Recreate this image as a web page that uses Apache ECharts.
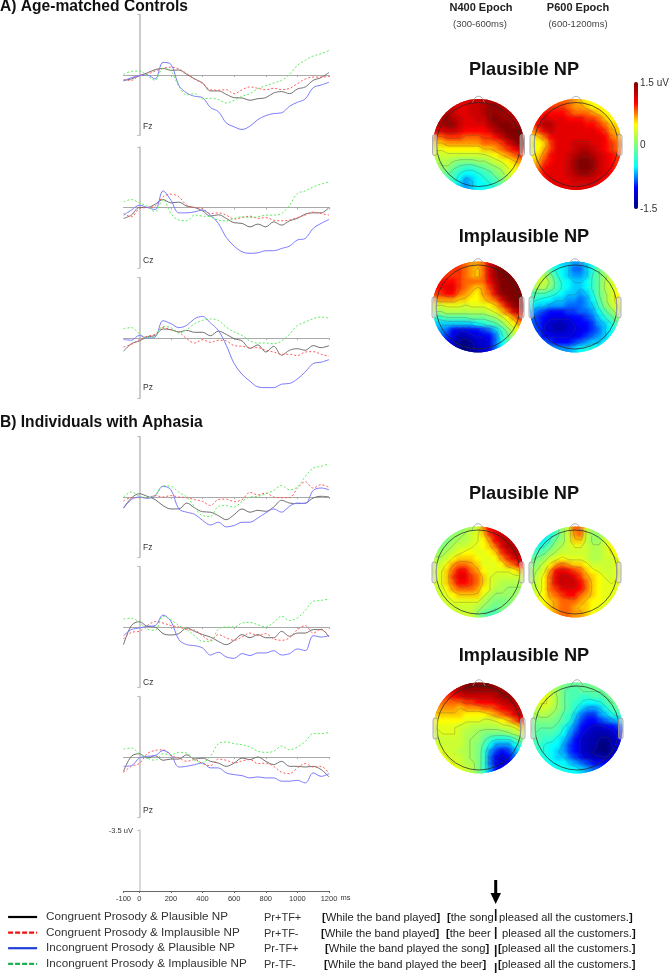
<!DOCTYPE html>
<html>
<head>
<meta charset="utf-8">
<style>
html,body{margin:0;padding:0;background:#fff}
#main{width:671px;height:975px}
</style>
<script src="https://cdn.jsdelivr.net/npm/echarts@6/dist/echarts.min.js"></script>
</head>
<body>
<div id="main"></div>
<script>
// time axis, ms
const times = [-100,-50,0,50,100,150,200,250,300,350,400,450,500,550,600,650,700,750,800,850,900,950,1000,1050,1100,1150,1200]
const xTicks = [200,400,600,800,1000,1200]
const xLabels = [-100,0,200,400,600,800,1000,1200]
const seriesNames = ['Congruent Prosody & Plausible NP','Congruent Prosody & Implausible NP','Incongruent Prosody & Plausible NP','Incongruent Prosody & Implausible NP']

// ERP values in uV (negative plotted up)
const aFzBlack = [.31,.23,.04,-.12,-.31,-.38,-.27,-.29,-.04,.23,.46,.92,.92,1.12,1.31,1.33,1.46,1.37,1.31,1.04,.96,1.08,.81,.69,.31,.15,-.15]
const aFzRed = [.27,.31,.04,-.04,-.23,-.38,-.46,-.35,-.08,.23,.5,.85,.88,.85,1.08,.85,.69,.77,.85,.77,.85,.77,.5,.23,.12,.12,.08]
const aFzBlue = [.35,.15,.04,0,.23,-.73,-.62,.6,1.04,1.23,1.31,1.88,2.12,2.77,3.0,3.15,2.96,2.58,2.35,2.23,2.19,1.81,1.58,1.38,.73,.58,.42]
const aFzGreen = [-.04,-.21,-.23,.04,.31,-.37,-.23,.65,1.15,1.08,1.37,1.35,1.42,1.62,1.46,1.23,1.08,.79,.62,.46,.31,-.04,-.56,-.85,-1.1,-1.23,-1.42]

const aCzBlack = [.63,.44,0,0,-.19,-.46,-.27,-.31,-.08,0,.19,.5,.42,.63,.88,.92,1.12,.96,1.12,.83,1.02,.77,.63,.38,.31,.31,0]
const aCzRed = [.35,.54,.06,0,-.08,-.62,-.77,-.62,-.13,0,.06,.35,.31,.44,.67,.58,.5,.63,.58,.73,.77,.73,.58,.44,.27,.35,.44]
const aCzBlue = [.44,.15,-.13,0,.12,-.96,-.42,.31,.31,.25,.15,.44,.92,1.73,2.23,2.56,2.65,2.62,2.5,2.5,2.37,2.23,1.88,1.79,1.21,.92,.69]
const aCzGreen = [-.33,-.46,-.27,-.08,.25,-.46,.35,.73,.77,.44,.5,.54,.73,.77,.63,.54,.58,.54,.44,.44,.35,-.13,-.81,-.96,-1.19,-1.35,-1.48]

const aPzBlack = [.77,.33,.17,-.06,-.15,-.52,-.48,-.35,-.44,-.33,-.33,-.13,-.4,-.21,.04,.17,.6,.4,.81,.48,1.0,.71,.62,.71,.44,.56,.44]
const aPzRed = [.52,.37,.1,-.1,-.21,-.6,-.48,-.33,.04,.29,.1,.25,.13,.17,.44,.48,.56,.56,.71,.81,.94,.94,1.02,.81,.79,.94,1.06]
const aPzBlue = [.08,.13,-.15,0,-.06,-1.0,-.83,-.6,-.73,-1.12,-1.25,-.87,-.44,.42,1.48,2.1,2.5,2.83,2.87,2.87,2.67,2.63,2.37,1.96,1.48,1.4,1.25]
const aPzGreen = [-.54,-.6,-.25,-.02,-.1,-.67,-.6,-.29,-.48,-.83,-1.02,-1.1,-1.02,-.63,-.35,-.15,.17,.29,.29,.33,.17,-.21,-.73,-.92,-1.12,-1.21,-1.15]

const bFzBlack = [.63,.06,-.19,-.04,.15,.5,.69,.69,.35,.63,.85,.88,1.08,1.31,1.02,.69,.88,.77,.83,.58,.19,.35,.38,.35,.06,-.04,0]
const bFzRed = [.23,.04,.04,.04,-.08,0,-.08,0,.04,.15,.25,.5,.15,.12,.27,.15,-.27,-.12,-.23,0,.04,.04,-.5,-.88,-.52,-.71,-.56]
const bFzBlue = [.65,.15,0,.08,-.08,-.62,-.42,.69,.88,1.0,1.35,1.62,1.46,1.73,1.65,1.46,1.46,1.21,.92,.69,.88,.54,.35,.38,-.38,-.52,-.42]
const bFzGreen = [0,-.29,-.04,.04,-.12,-.65,-.62,-.27,0,.58,1.08,1.12,.54,.5,.58,.25,0,-.04,-.19,-.38,-.67,-.42,-.58,-1.19,-1.67,-1.77,-1.92]

const bCzBlack = [1.02,-.08,-.31,-.04,0,.38,.46,.38,.06,.25,.44,.58,.83,1.02,.77,.44,.62,.44,.62,.62,.25,.54,.35,.35,.15,.15,.58]
const bCzRed = [.69,.31,.25,-.08,-.31,-.23,-.08,0,.15,.19,.5,.77,.44,.63,.77,.58,.35,.5,.38,.69,.77,.63,.15,-.08,.35,.12,.58]
const bCzBlue = [.5,.15,.06,-.04,-.08,-.69,-.33,.73,1.02,1.08,1.21,1.62,1.46,1.73,1.81,1.54,1.65,1.5,1.5,1.37,1.62,1.54,1.27,1.37,.5,.58,.5]
const bCzGreen = [-.46,-.52,-.27,.12,.19,-.62,-.42,-.08,.15,.5,.83,.83,.12,0,0,-.23,-.27,-.13,0,-.27,-.62,-.37,-.52,-.96,-1.48,-1.54,-1.62]

const bPzBlack = [.83,-.04,-.19,.06,-.08,.19,.12,.12,-.13,.12,.06,.25,.35,.54,.35,.06,.15,0,.25,.44,.25,.54,.54,.58,.54,.73,1.15]
const bPzRed = [.88,.54,.38,-.19,-.38,-.42,-.08,.06,.25,.15,.38,.5,.12,.19,.35,.23,.15,.38,.35,.54,.88,.96,.63,.38,.58,.54,.96]
const bPzBlue = [.54,.5,.06,-.04,-.08,-.38,-.13,.58,.54,.44,.35,.63,.63,.92,1.02,1.08,1.21,1.15,1.21,1.21,1.4,1.4,1.35,1.5,.92,1.12,.96]
const bPzGreen = [-.46,-.52,-.19,.06,.19,-.19,-.13,-.27,-.23,.19,.31,-.04,-.77,-.87,-.77,-.71,-.58,-.33,-.27,-.33,-.63,-.42,-.58,-.9,-1.35,-1.35,-1.42]

// scalp maps, rows top to bottom, tenths of a uV
const mapAPlausN400 = [
[11,11,11,11,11,11,12,12,13,13,13,13,13,13,13],
[12,12,12,12,11,11,12,12,13,14,14,13,13,13,13],
[13,13,13,12,11,11,12,12,13,14,14,14,13,13,13],
[13,13,14,13,12,11,11,12,12,14,15,14,14,13,13],
[13,13,14,14,12,11,11,11,11,13,14,15,15,14,14],
[11,11,12,12,11,10,10,10,10,11,13,14,15,15,15],
[8,8,9,9,9,8,8,8,9,9,10,12,14,15,15],
[6,6,7,7,7,7,7,7,8,8,8,9,11,13,15],
[4,4,5,5,5,5,5,5,6,6,7,8,9,10,12],
[3,3,3,3,3,3,3,3,3,4,5,6,7,8,9],
[1,2,2,1,0,0,0,1,1,2,3,4,5,6,7],
[0,1,1,-1,-2,-3,-3,-2,-1,0,1,2,4,5,6],
[-1,-1,-1,-2,-4,-5,-5,-4,-3,-2,0,1,3,4,5],
[-2,-2,-2,-3,-5,-7,-6,-5,-4,-3,-2,0,2,3,4],
[-3,-3,-3,-4,-6,-7,-6,-5,-5,-4,-3,-1,1,2,3]]
const mapAPlausP600 = [
[7,7,7,7,8,8,8,7,6,5,5,5,5,5,5],
[8,8,8,9,9,9,8,7,7,6,5,5,5,5,5],
[9,9,10,10,10,10,9,8,8,8,7,6,5,5,5],
[9,10,12,11,11,11,10,10,10,9,9,8,6,5,5],
[9,11,13,13,11,11,11,11,11,10,10,9,8,6,6],
[7,9,11,12,11,11,11,11,11,11,11,10,9,7,6],
[5,6,8,10,11,11,11,11,11,11,11,11,10,8,7],
[4,5,6,9,11,11,11,12,12,12,11,11,10,9,8],
[4,5,7,9,11,11,11,12,13,13,12,11,10,9,8],
[5,6,8,10,11,11,12,13,14,14,13,12,11,10,9],
[6,7,9,10,11,11,12,14,15,15,14,12,11,10,9],
[7,8,10,11,11,11,12,14,15,15,14,12,11,10,9],
[8,9,10,11,11,11,12,13,14,14,13,12,11,10,9],
[9,9,10,11,11,11,11,12,12,12,12,11,10,10,9],
[9,9,10,11,11,11,11,11,11,11,11,10,10,9,9]]
const mapAImplN400 = [
[10,10,10,10,9,8,7,7,8,11,14,14,14,14,14],
[9,9,9,9,9,8,7,6,8,11,14,15,15,14,14],
[9,9,9,9,9,8,7,6,8,11,14,15,15,15,15],
[10,10,10,10,9,8,8,8,8,10,13,15,15,15,15],
[10,10,11,11,9,8,7,6,7,9,12,15,15,15,15],
[9,9,10,10,8,7,6,5,7,8,11,14,15,15,15],
[7,7,7,7,6,6,5,5,6,7,8,11,14,15,15],
[3,3,4,4,4,3,4,4,4,5,6,8,11,14,15],
[1,1,2,2,2,2,2,2,2,3,4,6,8,11,13],
[-4,-3,-2,-2,-2,-2,-1,-1,-1,0,1,3,5,7,9],
[-6,-6,-6,-6,-6,-6,-6,-5,-4,-3,-2,0,3,5,7],
[-7,-7,-8,-10,-11,-11,-10,-10,-9,-8,-6,-3,0,3,5],
[-7,-8,-9,-11,-13,-13,-12,-11,-11,-10,-8,-4,-1,2,4],
[-8,-9,-10,-12,-14,-15,-14,-12,-12,-11,-8,-5,-2,1,3],
[-9,-10,-11,-12,-14,-15,-14,-13,-12,-11,-8,-5,-2,1,3]]
const mapAImplP600 = [
[-2,-2,-2,-3,-5,-6,-6,-7,-7,-6,-4,-2,0,1,1],
[-1,0,0,-2,-4,-5,-6,-8,-8,-6,-4,-1,1,2,2],
[1,2,2,0,-3,-5,-6,-7,-7,-6,-3,-1,1,3,3],
[2,3,3,1,-2,-4,-5,-6,-6,-5,-3,-1,2,3,4],
[1,2,2,0,-2,-4,-5,-6,-6,-5,-3,-1,2,3,4],
[-2,-2,-2,-3,-4,-5,-6,-6,-7,-6,-4,-1,1,3,5],
[-3,-4,-5,-5,-6,-6,-7,-7,-8,-7,-5,-2,1,3,5],
[-5,-6,-6,-7,-7,-7,-8,-8,-8,-7,-6,-3,0,2,4],
[-7,-8,-9,-10,-10,-10,-9,-9,-8,-8,-7,-5,-2,0,2],
[-8,-9,-10,-11,-11,-11,-11,-10,-10,-9,-8,-6,-4,-2,0],
[-8,-9,-11,-12,-13,-13,-12,-11,-10,-10,-9,-7,-6,-4,-2],
[-8,-9,-11,-12,-13,-13,-12,-11,-11,-10,-9,-8,-6,-5,-3],
[-7,-8,-10,-11,-11,-11,-11,-11,-10,-9,-8,-7,-6,-5,-3],
[-6,-7,-8,-9,-10,-10,-10,-9,-8,-7,-6,-6,-5,-4,-3],
[-4,-4,-5,-6,-7,-7,-7,-6,-5,-4,-4,-4,-4,-3,-3]]
const mapBPlausN400 = [
[0,0,0,0,0,1,2,3,7,10,11,11,11,11,11],
[-1,-1,0,1,1,2,3,4,6,9,11,12,12,12,12],
[-1,-1,0,1,2,2,3,4,5,7,10,12,13,12,12],
[0,0,1,2,3,3,4,4,5,6,8,11,13,13,13],
[1,1,2,3,4,5,5,4,4,5,6,9,11,13,13],
[2,2,3,5,6,6,6,5,4,4,5,7,9,11,12],
[3,3,5,7,8,8,7,6,4,4,4,5,7,8,10],
[3,4,6,8,10,10,8,7,5,4,4,4,4,5,6],
[3,4,6,9,11,11,9,8,6,4,3,3,3,3,3],
[3,4,6,8,10,10,9,8,6,4,3,2,2,2,2],
[3,3,5,7,8,8,8,7,5,4,2,2,1,1,1],
[3,3,4,5,6,6,6,6,4,2,1,1,1,1,1],
[3,3,3,4,4,4,4,4,2,1,0,0,0,1,1],
[3,3,3,3,3,3,3,2,1,0,-1,0,0,1,1],
[3,3,3,3,3,3,3,1,-1,-2,-2,-1,0,1,1]]
const mapBPlausP600 = [
[-6,-6,-5,-4,-2,1,3,8,8,3,1,1,2,2,2],
[-7,-7,-6,-4,-2,1,3,7,8,3,1,1,2,2,2],
[-7,-6,-5,-3,0,1,3,6,6,3,1,1,3,4,4],
[-6,-4,-3,-1,1,2,3,4,4,3,2,2,3,5,5],
[-3,-2,-1,1,2,3,3,3,3,3,2,2,3,4,5],
[-1,0,1,3,4,5,4,4,4,3,2,2,3,3,4],
[0,1,3,5,7,8,7,6,6,5,3,3,3,3,4],
[1,2,4,7,10,11,10,9,8,6,5,4,3,3,4],
[1,3,5,8,11,12,12,11,9,7,6,5,4,3,4],
[2,3,5,8,11,12,12,12,10,8,6,5,4,4,4],
[2,3,5,8,9,11,11,11,10,8,6,5,4,4,4],
[3,4,5,7,8,9,10,10,8,7,6,5,4,4,4],
[3,4,5,6,7,8,8,8,7,6,5,5,4,4,3],
[3,4,5,6,7,8,8,7,6,6,5,4,4,3,3],
[4,4,5,6,7,8,8,7,7,6,5,4,4,3,3]]
const mapBImplN400 = [
[12,12,13,13,14,15,15,15,15,15,14,13,13,13,13],
[10,10,11,12,13,14,14,14,14,14,14,14,14,13,13],
[9,9,9,10,11,12,12,12,12,12,13,14,14,13,13],
[8,8,8,8,8,9,9,10,10,10,11,12,13,13,13],
[7,7,7,7,6,7,7,7,8,8,9,10,11,12,13],
[6,6,6,6,6,5,5,5,5,6,7,8,9,11,12],
[5,5,5,5,5,4,4,4,3,3,4,5,6,8,10],
[4,4,4,4,3,3,2,2,2,2,2,3,3,4,6],
[3,4,4,4,3,2,2,1,0,0,0,0,1,2,3],
[3,3,3,3,3,2,1,1,-1,-3,-4,-4,-4,-2,0],
[3,3,3,3,3,2,1,0,-2,-5,-7,-7,-7,-5,-3],
[4,4,3,3,2,2,1,0,-3,-7,-9,-10,-9,-7,-5],
[4,4,4,3,3,2,1,0,-3,-8,-11,-12,-10,-8,-6],
[4,4,4,4,3,2,2,0,-3,-8,-11,-12,-11,-8,-6],
[4,4,4,4,4,3,2,0,-3,-7,-10,-10,-9,-7,-6]]
const mapBImplP600 = [
[3,3,2,1,0,0,-1,-1,-1,-1,0,0,0,0,0],
[4,4,3,2,1,-1,-2,-2,-1,-1,-1,-1,0,1,1],
[4,4,4,3,1,-1,-2,-2,-3,-3,-2,-2,-1,0,1],
[3,4,4,3,1,-1,-2,-3,-4,-5,-5,-4,-2,-1,0],
[2,3,3,2,1,-1,-2,-4,-6,-7,-7,-6,-4,-2,-1],
[1,2,2,1,0,-2,-3,-6,-8,-9,-9,-7,-6,-4,-3],
[0,0,0,0,-1,-2,-4,-7,-9,-10,-10,-9,-8,-7,-6],
[-1,-1,-1,-1,-2,-4,-6,-8,-10,-11,-12,-12,-11,-10,-9],
[-1,-2,-2,-2,-3,-5,-7,-9,-11,-12,-13,-13,-13,-12,-10],
[-2,-2,-3,-3,-5,-6,-8,-10,-12,-13,-13,-14,-14,-13,-11],
[-2,-3,-4,-5,-5,-7,-9,-10,-12,-13,-13,-15,-15,-13,-11],
[-3,-3,-4,-5,-6,-7,-9,-10,-12,-13,-14,-15,-15,-13,-11],
[-3,-4,-4,-5,-6,-6,-8,-9,-11,-12,-13,-13,-13,-12,-10],
[-3,-4,-4,-5,-5,-5,-6,-7,-8,-9,-10,-10,-10,-10,-9],
[-3,-4,-4,-4,-4,-4,-5,-5,-6,-7,-8,-8,-8,-8,-8]]

const font = 'Liberation Sans'
const lineStyles = [
  { color: '#707070', width: 1 },
  { color: '#ff5a5a', width: 1, type: [2, 2] },
  { color: '#7b7bff', width: 1 },
  { color: '#5cee5c', width: 1, type: [2, 2] }
]
const panels = [
  { label: 'Fz', zero: 75, labelY: 127, values: [aFzBlack, aFzRed, aFzBlue, aFzGreen] },
  { label: 'Cz', zero: 207.5, labelY: 260.5, values: [aCzBlack, aCzRed, aCzBlue, aCzGreen] },
  { label: 'Pz', zero: 338, labelY: 388, values: [aPzBlack, aPzRed, aPzBlue, aPzGreen] },
  { label: 'Fz', zero: 497, labelY: 548, values: [bFzBlack, bFzRed, bFzBlue, bFzGreen] },
  { label: 'Cz', zero: 627, labelY: 683, values: [bCzBlack, bCzRed, bCzBlue, bCzGreen] },
  { label: 'Pz', zero: 757, labelY: 811, values: [bPzBlack, bPzRed, bPzBlue, bPzGreen] }
]
const maps = [
  { cx: 478.5, cy: 144.5, grid: mapAPlausN400 },
  { cx: 576, cy: 144.5, grid: mapAPlausP600 },
  { cx: 478, cy: 307, grid: mapAImplN400 },
  { cx: 575, cy: 307, grid: mapAImplP600 },
  { cx: 478, cy: 572, grid: mapBPlausN400 },
  { cx: 575, cy: 572, grid: mapBPlausP600 },
  { cx: 479, cy: 728, grid: mapBImplN400 },
  { cx: 577, cy: 728, grid: mapBImplP600 }
]
const mapRadius = 45.5

const grids = [], xAxes = [], yAxes = [], series = [], graphics = []

function addText(text, x, y, size, opts) {
  graphics.push({
    type: 'text', z: 50,
    style: Object.assign({
      text, x, y, fill: '#333', font: size + 'px "' + font + '"',
      textVerticalAlign: 'middle'
    }, opts || {})
  })
}

// waveform panels
panels.forEach((p, i) => {
  grids.push({ left: 123.5, width: 205.5, top: p.zero - 60.5, height: 121 })
  xAxes.push({
    gridIndex: i, type: 'value', min: -100, max: 1200,
    axisLine: { onZero: true, lineStyle: { color: '#aaa', width: 1 } },
    axisTick: { show: true, length: 2, lineStyle: { color: '#aaa' }, customValues: xTicks },
    axisLabel: { show: false }, splitLine: { show: false }
  })
  yAxes.push({
    gridIndex: i, type: 'value', inverse: true, min: -3.5, max: 3.5,
    axisLine: { show: true, onZero: true, lineStyle: { color: '#bbb', width: 1.5 } },
    axisTick: { show: true, length: 2, lineStyle: { color: '#bbb' }, customValues: [-3.5, 3.5] },
    axisLabel: { show: false }, splitLine: { show: false }
  })
  p.values.forEach((vals, k) => {
    series.push({
      name: seriesNames[k], type: 'line', xAxisIndex: i, yAxisIndex: i,
      symbol: 'none', smooth: 0.35, silent: true, animation: false,
      lineStyle: lineStyles[k], itemStyle: { color: lineStyles[k].color },
      data: times.map((t, n) => [t, vals[n]])
    })
  })
  addText(p.label, 143, p.labelY, 8.5)
})

// scale panel at the bottom
grids.push({ left: 123.5, width: 205.5, top: 830, height: 61 })
xAxes.push({
  gridIndex: 6, type: 'value', min: -100, max: 1200,
  axisLine: { onZero: true, lineStyle: { color: '#666', width: 1 } },
  axisTick: { show: true, length: 2, lineStyle: { color: '#666' }, customValues: xLabels },
  axisLabel: { show: true, fontSize: 7.5, color: '#333', fontFamily: font, margin: 4, customValues: xLabels, formatter: v => String(v) },
  splitLine: { show: false }
})
yAxes.push({
  gridIndex: 6, type: 'value', inverse: true, min: -3.5, max: 0,
  axisLine: { show: true, onZero: true, lineStyle: { color: '#ccc', width: 1.5 } },
  axisTick: { show: true, length: 2, lineStyle: { color: '#bbb' }, customValues: [-3.5] },
  axisLabel: { show: false }, splitLine: { show: false }
})
addText('-3.5 uV', 133, 831, 7.5, { textAlign: 'right' })
addText('ms', 340.5, 898, 7.5)
series.push({ type: 'line', xAxisIndex: 6, yAxisIndex: 6, data: [], silent: true })

// contour segments from a grid by marching squares
function contourSegments(grid) {
  const out = []
  const n = grid.length
  const pos = i => (i - (n - 1) / 2) / (n / 2)
  for (let lev = -13.5; lev < 15; lev += 2.5) {
    for (let r = 0; r < n - 1; r++) {
      for (let c = 0; c < n - 1; c++) {
        const a = grid[r][c], b = grid[r][c + 1], d = grid[r + 1][c], e = grid[r + 1][c + 1]
        const pts = []
        if ((a < lev) !== (b < lev)) pts.push([c + (lev - a) / (b - a), r])
        if ((b < lev) !== (e < lev)) pts.push([c + 1, r + (lev - b) / (e - b)])
        if ((d < lev) !== (e < lev)) pts.push([c + (lev - d) / (e - d), r + 1])
        if ((a < lev) !== (d < lev)) pts.push([c, r + (lev - a) / (d - a)])
        if (pts.length >= 2) {
          const x1 = pos(pts[0][0]), y1 = -pos(pts[0][1]), x2 = pos(pts[1][0]), y2 = -pos(pts[1][1])
          if (x1 * x1 + y1 * y1 < 1 && x2 * x2 + y2 * y2 < 1) out.push([x1, y1, x2, y2])
        }
      }
    }
  }
  return out
}

// scalp maps: a flat cell layer, then soft blobs on top of it, then contours
const mapSeriesIdx = []
maps.forEach((m, i) => {
  const gi = 7 + i
  grids.push({ left: m.cx - mapRadius, top: m.cy - mapRadius, width: mapRadius * 2, height: mapRadius * 2 })
  xAxes.push({ gridIndex: gi, type: 'value', min: -1, max: 1, show: false })
  yAxes.push({ gridIndex: gi, type: 'value', min: -1, max: 1, show: false })
  const n = m.grid.length
  const cells = []
  m.grid.forEach((row, r) => row.forEach((v, c) => {
    cells.push([(c - (n - 1) / 2) / (n / 2), -(r - (n - 1) / 2) / (n / 2), v / 10])
  }))
  const clipOf = api => {
    const o = api.coord([0, 0])
    return { type: 'circle', shape: { cx: o[0], cy: o[1], r: mapRadius } }
  }
  mapSeriesIdx.push(series.length)
  series.push({
    type: 'custom', xAxisIndex: gi, yAxisIndex: gi, silent: true, animation: false, z: 2,
    clip: false, progressive: 0, encode: { x: 0, y: 1 }, data: cells,
    renderItem(params, api) {
      const p = api.coord([api.value(0), api.value(1)])
      const s = api.size([2 / n, 2 / n])
      return {
        type: 'rect',
        shape: { x: p[0] - s[0] / 2 - 0.5, y: p[1] - s[1] / 2 - 0.5, width: s[0] + 1, height: s[1] + 1 },
        style: { fill: api.visual('color') },
        clipPath: clipOf(api)
      }
    }
  })
  mapSeriesIdx.push(series.length)
  series.push({
    type: 'custom', xAxisIndex: gi, yAxisIndex: gi, silent: true, animation: false, z: 3,
    clip: false, progressive: 0, encode: { x: 0, y: 1 }, data: cells,
    renderItem(params, api) {
      const p = api.coord([api.value(0), api.value(1)])
      const s = api.size([2 / n, 2 / n])
      const col = api.visual('color')
      return {
        type: 'circle',
        shape: { cx: p[0], cy: p[1], r: s[0] * 1.25 },
        style: {
          fill: {
            type: 'radial', x: 0.5, y: 0.5, r: 0.5,
            colorStops: [
              { offset: 0, color: echarts.color.modifyAlpha(col, 0.95) },
              { offset: 0.4, color: echarts.color.modifyAlpha(col, 0.6) },
              { offset: 1, color: echarts.color.modifyAlpha(col, 0) }
            ]
          }
        },
        clipPath: clipOf(api)
      }
    }
  })
  series.push({
    type: 'custom', xAxisIndex: gi, yAxisIndex: gi, silent: true, animation: false, z: 5,
    clip: false, progressive: 0, encode: { x: [0, 2], y: [1, 3] }, data: contourSegments(m.grid),
    renderItem(params, api) {
      const a = api.coord([api.value(0), api.value(1)])
      const b = api.coord([api.value(2), api.value(3)])
      return {
        type: 'line',
        shape: { x1: a[0], y1: a[1], x2: b[0], y2: b[1] },
        style: { stroke: 'rgba(70,70,70,0.38)', lineWidth: 0.7 }
      }
    }
  })
  // head outline, ears, nose
  graphics.push({ type: 'circle', z: 40, shape: { cx: m.cx, cy: m.cy, r: 42 }, style: { fill: 'none', stroke: 'rgba(40,40,40,0.75)', lineWidth: 1 } })
  graphics.push({ type: 'rect', z: 40, shape: { x: m.cx - mapRadius - 0.5, y: m.cy - 10, width: 4.5, height: 21, r: 2 }, style: { fill: 'rgba(220,220,220,0.5)', stroke: '#999', lineWidth: 0.8 } })
  graphics.push({ type: 'rect', z: 40, shape: { x: m.cx + mapRadius - 4, y: m.cy - 10, width: 4.5, height: 21, r: 2 }, style: { fill: 'rgba(220,220,220,0.5)', stroke: '#999', lineWidth: 0.8 } })
  graphics.push({ type: 'polyline', z: 40, shape: { points: [[m.cx - 6, m.cy - 42], [m.cx - 2.5, m.cy - 47.5], [m.cx + 2.5, m.cy - 47.5], [m.cx + 6, m.cy - 42]], smooth: 0.4 }, style: { fill: 'none', stroke: '#999', lineWidth: 0.8 } })
})

// headings
addText('A) Age-matched Controls', 0, 6.5, 15.6, { font: 'bold 15.6px "' + font + '"', fill: '#111' })
addText('B) Individuals with Aphasia', 0, 423, 15.6, { font: 'bold 15.6px "' + font + '"', fill: '#111' })
addText('N400 Epoch', 481, 8, 11, { font: 'bold 11px "' + font + '"', fill: '#222', textAlign: 'center' })
addText('(300-600ms)', 480, 24, 9.5, { textAlign: 'center', fill: '#444' })
addText('P600 Epoch', 578, 8, 11, { font: 'bold 11px "' + font + '"', fill: '#222', textAlign: 'center' })
addText('(600-1200ms)', 578, 24, 9.5, { textAlign: 'center', fill: '#444' })
const bigTitle = { font: 'bold 18.2px "' + font + '"', fill: '#111', textAlign: 'center' }
addText('Plausible NP', 524, 70, 18.2, bigTitle)
addText('Implausible NP', 524, 237, 18.2, bigTitle)
addText('Plausible NP', 524, 494, 18.2, bigTitle)
addText('Implausible NP', 524, 656, 18.2, bigTitle)

// colour bar labels
addText('1.5 uV', 640, 83, 10)
addText('0', 640, 145, 10)
addText('-1.5', 640, 209.5, 10)

// condition codes and sentences
const rowY = [918, 933.5, 949, 964.5]
const codes = ['Pr+TF+', 'Pr+TF-', 'Pr-TF+', 'Pr-TF-']
const sentences = [
  [322, '{b|[}While the band played{b|]}', 447, '{b|[}the song', 499, 'pleased all the customers.{b|]}'],
  [321, '{b|[}While the band played{b|]}', 446, '{b|[}the beer', 502, 'pleased all the customers.{b|]}'],
  [325, '{b|[}While the band played the song{b|]}', 498, '{b|[}pleased all the customers.{b|]}'],
  [324, '{b|[}While the band played the beer{b|]}', 498, '{b|[}pleased all the customers.{b|]}']
]
const richB = { b: { fontFamily: font, fontSize: 11.2, fontWeight: 'bold', fill: '#111' } }
rowY.forEach((y, i) => {
  addText(codes[i], 264, y, 11)
  const s = sentences[i]
  for (let k = 0; k < s.length; k += 2) {
    addText(s[k + 1], s[k], y, 11.2, { rich: richB, fontFamily: font, fontSize: 11.2, fill: '#222', font: undefined })
  }
})

// arrow and boundary marker
graphics.push({ type: 'line', z: 50, shape: { x1: 495.7, y1: 909, x2: 495.7, y2: 973 }, style: { stroke: '#111', lineWidth: 1.6, lineDash: [12, 6] } })
graphics.push({ type: 'line', z: 50, shape: { x1: 495.7, y1: 880, x2: 495.7, y2: 896 }, style: { stroke: '#000', lineWidth: 3 } })
graphics.push({ type: 'polygon', z: 50, shape: { points: [[490.5, 893], [501, 893], [495.7, 904]] }, style: { fill: '#000' } })

const hiddenIcon = { color: 'transparent', opacity: 0, borderWidth: 0 }
const chart = echarts.init(document.getElementById('main'))
chart.setOption({
  backgroundColor: '#fff',
  animation: false,
  grid: grids,
  xAxis: xAxes,
  yAxis: yAxes,
  legend: {
    left: 7, top: 911, orient: 'vertical', selectedMode: false, padding: 0,
    itemWidth: 29, itemHeight: 13, itemGap: 3.6,
    textStyle: { fontFamily: font, fontSize: 11.7, color: '#333', padding: [0, 0, 0, 4] },
    data: [
      { name: seriesNames[0], itemStyle: hiddenIcon, lineStyle: { color: '#000', width: 2.2, type: 'solid' } },
      { name: seriesNames[1], itemStyle: hiddenIcon, lineStyle: { color: '#f01010', width: 2.2, type: [5, 2] } },
      { name: seriesNames[2], itemStyle: hiddenIcon, lineStyle: { color: '#1f3fd8', width: 2.2, type: 'solid' } },
      { name: seriesNames[3], itemStyle: hiddenIcon, lineStyle: { color: '#1fb050', width: 2.2, type: [5, 2] } }
    ]
  },
  visualMap: {
    type: 'continuous', seriesIndex: mapSeriesIdx, dimension: 2, min: -1.5, max: 1.5, padding: 0,
    left: 634, top: 82, itemWidth: 4, itemHeight: 127, calculable: false, hoverLink: false,
    inRange: { color: ['#00007f', '#0000ff', '#00ffff', '#7fff7f', '#ffff00', '#ff0000', '#7f0000'] }
  },
  graphic: { elements: graphics },
  series
})
</script>
</body>
</html>
